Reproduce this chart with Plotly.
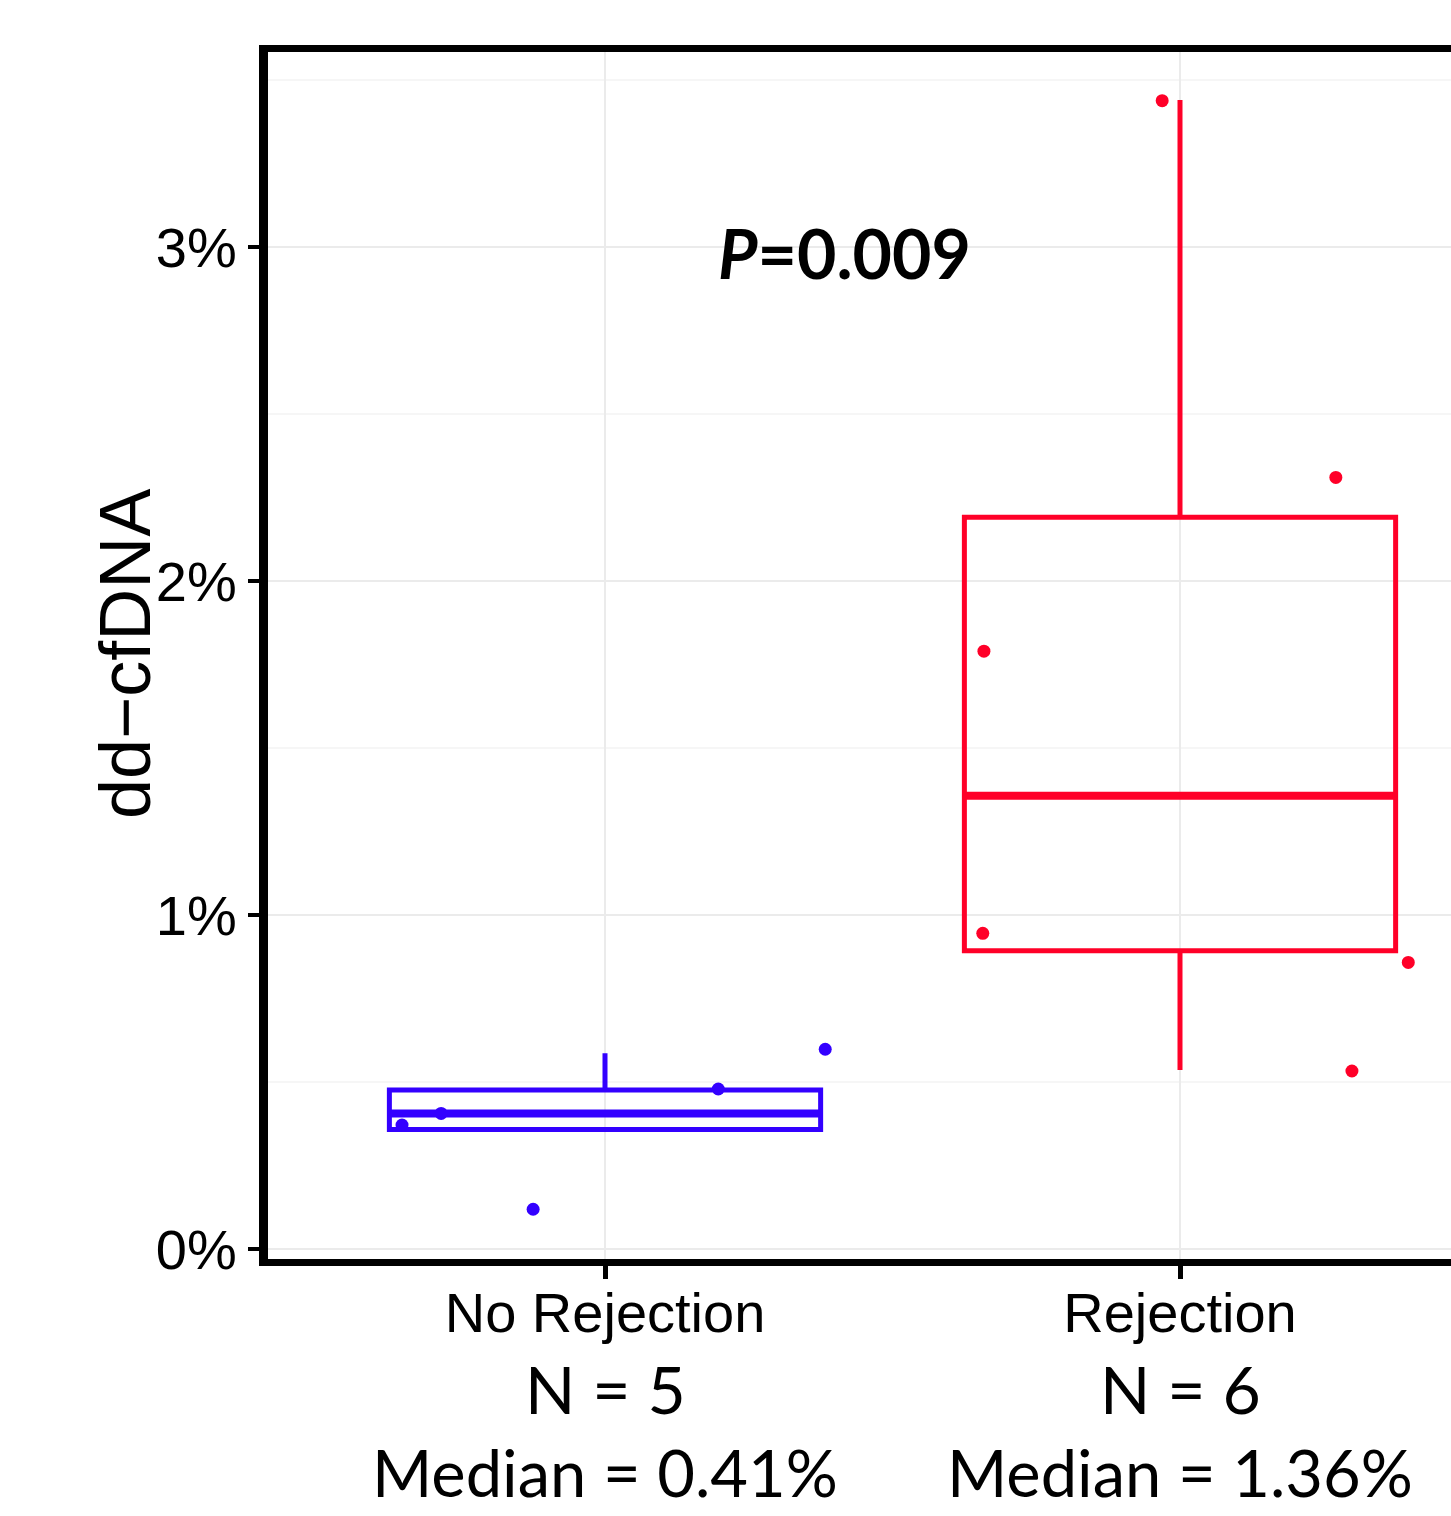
import plotly.graph_objects as go

# ---- data ----
groups = ["No Rejection", "Rejection"]
group_pos = [1, 2]
counts = [5, 6]
median_labels = ["0.41%", "1.36%"]
box_colors = ["#3300FF", "#FF0028"]

q1 = [0.358, 0.893]
medians = [0.406, 1.357]
q3 = [0.476, 2.191]
lower_fence = [0.358, 0.536]
upper_fence = [0.586, 3.44]

no_rej_vals = [0.371, 0.406, 0.119, 0.479, 0.598]
no_rej_jitter = [-0.353, -0.285, -0.125, 0.197, 0.383]
rej_vals = [3.438, 2.31, 1.79, 0.945, 0.858, 0.533]
rej_jitter = [-0.031, 0.271, -0.341, -0.343, 0.397, 0.299]

y_ticks = [0, 1, 2, 3]
y_ticktext = ["0%", "1%", "2%", "3%"]
y_title = "dd\u2212cfDNA"
p_text = "<b><i>P</i>=0.009</b>"

# ---- geometry (body margin removed via post_script) ----
BOX_W = 0.75
W, H = 1451, 1516
ML = 268
MT = 52
PLOT_BOTTOM = 1259
MR = 0
MB = H - PLOT_BOTTOM
plot_w = W - ML - MR
plot_h = H - MT - MB

px_per = 334.0
y0_px = 1249
ymin = (y0_px - PLOT_BOTTOM) / px_per
ymax = (y0_px - MT) / px_per
x_px_c1, x_px_per = 605, 575.0
xmin = 1 + (ML - x_px_c1) / x_px_per
xmax = 1 + (W - MR - x_px_c1) / x_px_per


def paper_y(ref_px):
    return (PLOT_BOTTOM - ref_px) / plot_h


def paper_x(ref_px):
    return (ref_px - ML) / plot_w


fig = go.Figure()

for i in range(2):
    fig.add_trace(go.Box(
        x=[group_pos[i]], q1=[q1[i]], median=[medians[i]], q3=[q3[i]],
        lowerfence=[lower_fence[i]], upperfence=[upper_fence[i]],
        width=BOX_W, whiskerwidth=0, boxpoints=False,
        line=dict(color=box_colors[i], width=5),
        fillcolor="rgba(255,255,255,0)", showlegend=False, hoverinfo="skip",
    ))
    fig.add_trace(go.Scatter(
        x=[group_pos[i] - BOX_W / 2, group_pos[i] + BOX_W / 2],
        y=[medians[i], medians[i]], mode="lines",
        line=dict(color=box_colors[i], width=8), showlegend=False,
        hoverinfo="skip",
    ))

point_sets = [(no_rej_vals, no_rej_jitter), (rej_vals, rej_jitter)]
for i, (vals, jit) in enumerate(point_sets):
    fig.add_trace(go.Scatter(
        x=[group_pos[i] + j for j in jit], y=vals, mode="markers",
        marker=dict(color=box_colors[i], size=13, line=dict(width=0)),
        showlegend=False, cliponaxis=False,
    ))

fig.update_layout(
    width=W, height=H,
    margin=dict(l=ML, r=MR, t=MT, b=MB, pad=0),
    paper_bgcolor="white", plot_bgcolor="white",
    font=dict(family="Liberation Sans, Arial", color="black"),
    xaxis=dict(
        range=[xmin, xmax], tickvals=group_pos, ticktext=groups,
        showgrid=True, gridcolor="#EBEBEB", gridwidth=2, zeroline=False,
        showline=True, linecolor="black", linewidth=7, mirror=True,
        ticks="outside", ticklen=13, tickwidth=5, tickcolor="black",
        ticklabelstandoff=-14,
        tickfont=dict(size=56, family="Liberation Sans, Arial", color="black"),
    ),
    yaxis=dict(
        range=[ymin, ymax], tickvals=y_ticks, ticktext=y_ticktext,
        showgrid=True, gridcolor="#EBEBEB", gridwidth=2, zeroline=False,
        minor=dict(dtick=0.5, tick0=0, showgrid=True, gridcolor="#F6F6F6",
                   gridwidth=2, ticks=""),
        showline=True, linecolor="black", linewidth=9,
        ticks="outside", ticklen=11, tickwidth=4, tickcolor="black",
        tickfont=dict(size=56, family="Liberation Sans, Arial", color="black"),
    ),
)

# y-axis title
fig.add_annotation(x=paper_x(125), y=paper_y(654), xref="paper", yref="paper",
                   text=y_title, textangle=-90, showarrow=False,
                   font=dict(size=72, family="Liberation Sans, Arial", color="black"),
                   xanchor="center", yanchor="middle")

# P value
fig.add_annotation(x=1.417, y=2.985, xref="x", yref="y", text=p_text,
                   showarrow=False, font=dict(size=68, family="Lato", color="black"),
                   xanchor="center", yanchor="middle")

for i in range(2):
    fig.add_annotation(x=group_pos[i], y=paper_y(1388), xref="x", yref="paper",
                       text=f"N = {counts[i]}", showarrow=False,
                       font=dict(size=66, family="Lato", color="black"),
                       xanchor="center", yanchor="middle")
    fig.add_annotation(x=group_pos[i], y=paper_y(1472), xref="x", yref="paper",
                       text=f"Median = {median_labels[i]}", showarrow=False,
                       font=dict(size=65, family="Lato", color="black"),
                       xanchor="center", yanchor="middle")

fig.write_html(
    "out.html",
    config={"displayModeBar": False},
    post_script="document.body.style.margin='0px';"
                "document.documentElement.style.overflow='hidden';"
                "document.body.style.overflow='hidden';",
)
